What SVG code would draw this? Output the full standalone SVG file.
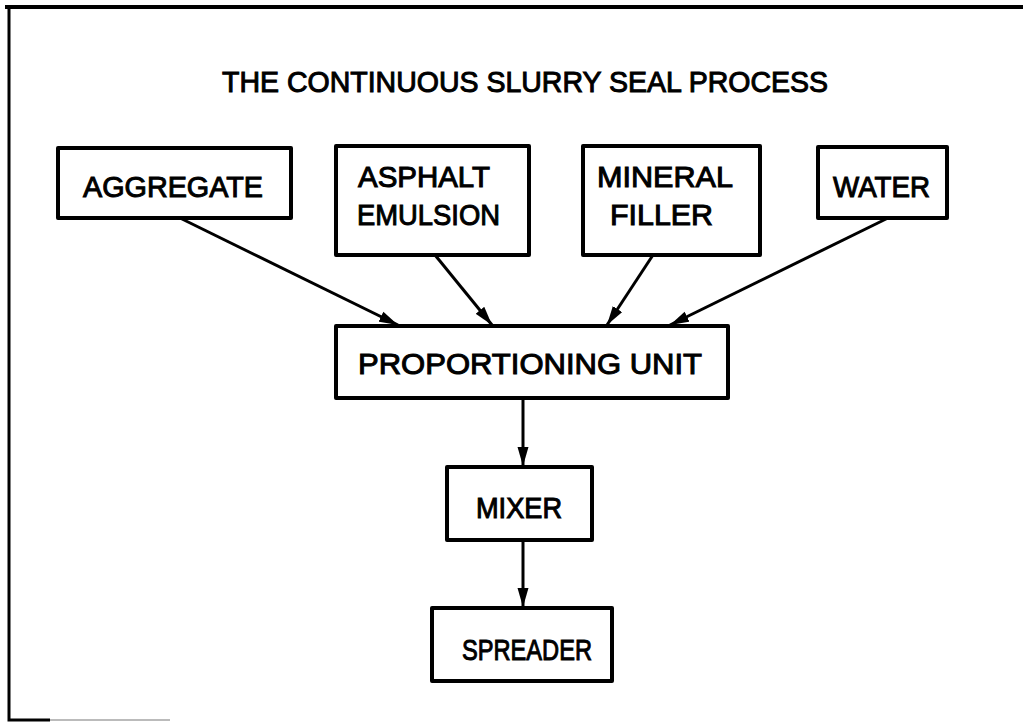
<svg xmlns="http://www.w3.org/2000/svg" width="1023" height="723" viewBox="0 0 1023 723">
<style>
.box{fill:#fff;stroke:#000;stroke-width:4;stroke-linejoin:round}
.t{font-family:"Liberation Sans",Arial,sans-serif;font-weight:normal;font-size:29px;fill:#000;stroke:#000;stroke-width:1}
.c{stroke:#000;stroke-width:3;fill:none}
</style>
<defs>
<marker id="ah" markerUnits="userSpaceOnUse" markerWidth="20" markerHeight="12" refX="19" refY="6" orient="auto">
<path d="M0,0.5 L19,6 L0,11.5 Z" fill="#000"/>
</marker>
</defs>
<rect width="1023" height="723" fill="#fff"/>
<g id="frame">
<path d="M5,7 H1023" stroke="#000" stroke-width="4" fill="none"/>
<path d="M9,7 V720 H50" stroke="#000" stroke-width="3" fill="none"/>
<path d="M50,720 H170" stroke="#bbb" stroke-width="2" fill="none"/>
</g>
<text class="t" x="222" y="92" textLength="606" lengthAdjust="spacingAndGlyphs">THE CONTINUOUS SLURRY SEAL PROCESS</text>
<g id="connectors">
<line class="c" x1="180" y1="218" x2="398" y2="325" marker-end="url(#ah)"/>
<line class="c" x1="435" y1="255" x2="492" y2="325" marker-end="url(#ah)"/>
<line class="c" x1="653" y1="255" x2="607" y2="325" marker-end="url(#ah)"/>
<line class="c" x1="888" y1="218" x2="670" y2="325" marker-end="url(#ah)"/>
<line class="c" x1="523" y1="398" x2="523" y2="466" marker-end="url(#ah)"/>
<line class="c" x1="523" y1="540" x2="523" y2="607" marker-end="url(#ah)"/>
</g>
<g id="aggregate">
<rect class="box" x="58" y="148" width="233" height="70"/>
<text class="t" x="83" y="197" textLength="180" lengthAdjust="spacingAndGlyphs">AGGREGATE</text>
</g>
<g id="asphalt">
<rect class="box" x="336" y="146" width="193" height="109"/>
<text class="t" x="358" y="187" textLength="132" lengthAdjust="spacingAndGlyphs">ASPHALT</text>
<text class="t" x="357" y="225" textLength="143" lengthAdjust="spacingAndGlyphs">EMULSION</text>
</g>
<g id="mineral">
<rect class="box" x="583" y="146" width="177" height="109"/>
<text class="t" x="597" y="187" textLength="136" lengthAdjust="spacingAndGlyphs">MINERAL</text>
<text class="t" x="610" y="225" textLength="103" lengthAdjust="spacingAndGlyphs">FILLER</text>
</g>
<g id="water">
<rect class="box" x="818" y="147" width="129" height="71"/>
<text class="t" x="833" y="197" textLength="97" lengthAdjust="spacingAndGlyphs">WATER</text>
</g>
<g id="proportioning">
<rect class="box" x="336" y="326" width="392" height="72"/>
<text class="t" x="358" y="374" textLength="344" lengthAdjust="spacingAndGlyphs">PROPORTIONING UNIT</text>
</g>
<g id="mixer">
<rect class="box" x="447" y="467" width="145" height="73"/>
<text class="t" x="476" y="518" textLength="86" lengthAdjust="spacingAndGlyphs">MIXER</text>
</g>
<g id="spreader">
<rect class="box" x="432" y="608" width="180" height="73"/>
<text class="t" x="462" y="660" textLength="130" lengthAdjust="spacingAndGlyphs">SPREADER</text>
</g>
</svg>
